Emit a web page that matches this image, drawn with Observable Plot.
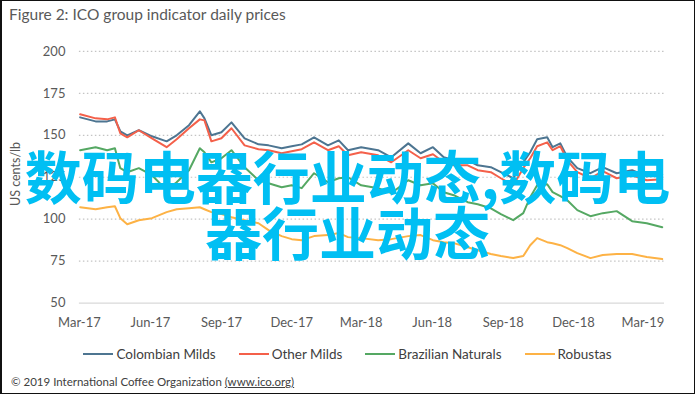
<!DOCTYPE html>
<html>
<head>
<meta charset="utf-8">
<script src="https://cdn.jsdelivr.net/npm/d3@7"></script>
<script src="https://cdn.jsdelivr.net/npm/@observablehq/plot@0.6"></script>
<style>
  html, body { margin: 0; padding: 0; background: #fff; }
  #page { position: relative; width: 695px; height: 394px; box-sizing: border-box;
          border: 1px solid #111; border-left-width: 2px; overflow: hidden; font-family: Lato, "Open Sans", sans-serif; }
  #title { position: absolute; left: 7px; top: 4px; font-size: 15.5px; color: #595959; white-space: nowrap; }
  #ylabel { position: absolute; left: 13px; top: 173px; transform: translate(-50%, -50%) rotate(-90deg);
            font-size: 12.5px; color: #595959; white-space: nowrap; }
  #chart { position: absolute; left: -2px; top: -1px; }
  #legend { position: absolute; left: 0; width: 691px; top: 345px; display: flex; justify-content: center;
            gap: 23px; font-size: 13.5px; color: #404040; }
  .item { display: flex; align-items: center; gap: 3px; white-space: nowrap; }
  .sw { width: 30px; height: 2px; }
  #footer { position: absolute; left: 9px; top: 374px; font-size: 11.5px; color: #404040; white-space: nowrap; }
  #footer u { text-decoration: underline; }
  #wm { position: absolute; left: 0; top: 145px; width: 691px; text-align: center; font-family: "Noto Sans CJK SC";
        font-weight: bold; font-size: 57px; line-height: 56px; color: #00bff3; pointer-events: none; }
</style>
</head>
<body>
<div id="page">
  <div id="title"></div>
  <div id="chart"></div>
  <div id="ylabel"></div>
  <div id="legend"></div>
  <div id="footer"></div>
  <div id="wm"></div>
</div>
<script>
const titleText = "Figure 2: ICO group indicator daily prices";
const yLabel = "US cents/lb";
const footerText = "© 2019 International Coffee Organization ";
const footerLink = "(www.ico.org)";
const watermark = "数码电器行业动态,数码电器行业动态";

const seriesNames = ["Colombian Milds", "Other Milds", "Brazilian Naturals", "Robustas"];
const seriesColors = ["#4d7591", "#f4604a", "#55a863", "#fdb245"];

const yTicks = [50, 75, 100, 125, 150, 175, 200];
const xTicks = ["2017-03-01", "2017-06-01", "2017-09-01", "2017-12-01", "2018-03-01", "2018-06-01", "2018-09-01", "2018-12-01", "2019-03-01"];
const xDomain = ["2017-03-01", "2019-03-29"];

const dates = ["2017-03-02", "2017-03-22", "2017-04-06", "2017-04-16", "2017-04-23", "2017-05-02", "2017-05-17", "2017-06-03", "2017-06-22", "2017-07-05", "2017-07-21", "2017-08-04", "2017-08-10", "2017-08-19", "2017-09-01", "2017-09-14", "2017-10-01", "2017-10-19", "2017-11-01", "2017-11-18", "2017-12-01", "2017-12-14", "2017-12-30", "2018-01-17", "2018-01-31", "2018-02-12", "2018-03-01", "2018-03-23", "2018-04-09", "2018-05-01", "2018-05-17", "2018-06-02", "2018-06-16", "2018-06-29", "2018-07-17", "2018-07-30", "2018-08-16", "2018-08-29", "2018-09-14", "2018-09-27", "2018-10-06", "2018-10-15", "2018-10-28", "2018-11-04", "2018-11-14", "2018-11-23", "2018-12-06", "2018-12-23", "2019-01-08", "2019-01-26", "2019-02-15", "2019-03-06", "2019-03-26"];

const colombianMilds = [160.7, 158.3, 158.3, 159.5, 152.4, 150.0, 153.0, 149.4, 146.4, 150.0, 156.0, 164.3, 160.1, 150.0, 151.8, 157.7, 148.2, 144.6, 144.0, 142.3, 143.5, 144.6, 148.8, 144.0, 147.0, 141.1, 142.9, 141.1, 136.9, 145.2, 139.3, 142.9, 136.9, 135.1, 135.1, 132.1, 131.0, 128.0, 124.4, 133.9, 139.9, 147.6, 148.8, 142.9, 145.2, 136.9, 130.4, 127.4, 131.0, 127.4, 129.2, 125.6, 126.8];
const otherMilds = [162.5, 160.1, 159.5, 160.7, 151.2, 148.8, 153.0, 148.2, 142.9, 147.6, 154.2, 159.5, 158.9, 146.4, 148.2, 154.2, 144.0, 141.7, 141.1, 139.3, 140.5, 141.7, 145.8, 141.1, 143.5, 138.1, 139.9, 138.1, 133.9, 141.1, 136.3, 138.7, 133.9, 132.1, 132.1, 129.2, 128.0, 124.4, 120.2, 130.4, 136.3, 143.5, 145.8, 141.1, 143.5, 135.1, 128.0, 124.4, 128.6, 124.4, 126.2, 123.2, 123.8];
const brazilianNaturals = [141.1, 142.9, 141.1, 142.3, 130.4, 128.0, 130.4, 126.2, 117.3, 122.0, 129.2, 142.3, 139.9, 133.9, 136.3, 141.1, 131.0, 123.2, 121.4, 119.0, 120.2, 118.5, 127.4, 122.0, 124.4, 125.0, 120.2, 118.5, 115.5, 123.2, 120.2, 121.4, 116.1, 114.3, 110.1, 108.9, 106.5, 103.0, 99.4, 103.6, 113.1, 120.2, 120.8, 116.1, 113.7, 111.3, 105.4, 101.8, 103.6, 104.8, 98.8, 97.6, 95.2];
const robustas = [107.1, 105.9, 107.1, 107.7, 100.6, 97.0, 99.4, 100.6, 104.2, 105.9, 106.5, 107.1, 105.9, 104.2, 103.0, 101.2, 99.4, 97.6, 93.5, 89.9, 88.1, 87.5, 89.9, 90.5, 91.7, 89.3, 88.7, 87.5, 88.1, 89.9, 90.5, 87.5, 86.3, 85.7, 83.3, 81.5, 79.2, 78.0, 76.8, 78.0, 84.5, 88.7, 86.3, 85.7, 84.5, 82.7, 79.8, 76.8, 78.6, 79.2, 79.2, 77.4, 76.2];

const seriesValues = [colombianMilds, otherMilds, brazilianNaturals, robustas];

const data = [];
seriesNames.forEach((name, i) => {
  dates.forEach((d, j) => data.push({series: name, date: new Date(d), value: seriesValues[i][j]}));
});

document.getElementById("title").textContent = titleText;
document.getElementById("ylabel").textContent = yLabel;
document.getElementById("wm").textContent = watermark;
const footer = document.getElementById("footer");
footer.append(footerText);
const u = document.createElement("u"); u.textContent = footerLink; footer.append(u);

const legend = document.getElementById("legend");
seriesNames.forEach((name, i) => {
  const it = document.createElement("div"); it.className = "item";
  const sw = document.createElement("div"); sw.className = "sw"; sw.style.background = seriesColors[i];
  const tx = document.createElement("span"); tx.textContent = name;
  it.append(sw, tx); legend.append(it);
});

const chart = Plot.plot({
  width: 695,
  height: 340,
  marginLeft: 79,
  marginRight: 30,
  marginTop: 51,
  marginBottom: 37,
  style: {fontFamily: "Lato, sans-serif", fontSize: "13px", color: "#595959", background: "transparent", overflow: "visible"},
  x: {type: "utc", domain: xDomain.map(d => new Date(d))},
  y: {domain: [50, 200]},
  color: {domain: seriesNames, range: seriesColors},
  marks: [
    Plot.ruleY(yTicks.filter(d => d > 50), {stroke: "#c4c4c4", strokeDasharray: "1.5,2.5", strokeWidth: 1.2}),
    Plot.ruleY([50], {stroke: "#d9d9d9", strokeWidth: 1.2}),
    Plot.axisY({ticks: yTicks, tickSize: 0, tickPadding: 14, label: null, fontSize: 13}),
    Plot.axisX({ticks: xTicks.map(d => new Date(d)), tickFormat: d3.utcFormat("%b-%y"), tickSize: 0, tickPadding: 15, label: null, fontSize: 13}),
    Plot.line(data, {x: "date", y: "value", z: "series", stroke: "series", strokeWidth: 2})
  ]
});
document.getElementById("chart").append(chart);
</script>
</body>
</html>
